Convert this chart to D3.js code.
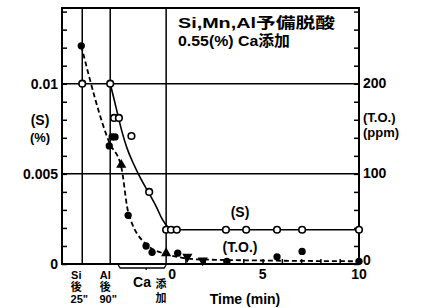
<!DOCTYPE html>
<html>
<head>
<meta charset="utf-8">
<script src="https://cdn.jsdelivr.net/npm/d3@7"></script>
<style>
  html, body { margin: 0; padding: 0; background: #fff; }
  svg { display: block; }
  text { font-family: "Liberation Sans", "DejaVu Sans", "Noto Sans CJK JP", sans-serif; font-weight: bold; fill: #000; }
</style>
</head>
<body>
<svg id="chart" width="427" height="308"></svg>
<script>
// Event markers before Ca addition (virtual time axis, min)
var eventTimes = [-4.35, -2.9, 0];

// (S) open circles, %
var sTime = [-4.35, -2.9, -2.7, -2.45, -1.8, -0.88, 0, 0.25, 0.55, 3.1, 4.15, 5.75, 7.05, 10];
var sVal  = [0.0100, 0.0100, 0.0081, 0.0081, 0.0071, 0.0040, 0.0019, 0.0019, 0.0019, 0.0019, 0.0019, 0.0019, 0.0019, 0.0019];
// (S) fitted solid line
var sFitTime = [-2.9, -2.69, -2.49, -2.28, -2.02, -1.71, -1.35, -0.88, -0.52, -0.21, 0.05, 0.36, 10];
var sFitVal  = [0.0100, 0.0091, 0.0082, 0.0073, 0.0064, 0.0056, 0.0048, 0.0039, 0.0032, 0.0025, 0.0021, 0.0019, 0.0019];

// (T.O.) filled marks, ppm
var toTime  = [-4.4, -2.95, -2.8, -2.65, -2.33, -1.97, -1.04, -0.73, 0, 0.6, 1.1, 1.9, 3.15, 5.75, 7.05, 10];
var toVal   = [242, 131, 141, 141, 110, 54, 20, 13, 12, 12, 8, 4, 3, 8, 14, 3];
var toShape = ['c', 'c', 'c', 'c', 'up', 'c', 'c', 'c', 'up', 'c', 'down', 'down', 'c', 'c', 'c', 'c'];
// (T.O.) fitted dashed line
var toFitTime = [-4.4, -2.95, -2.33, -1.97, -1.04, 0, 1.8, 10];
var toFitVal  = [242, 135, 108, 58, 22, 11, 5, 3];

var leftTicks = [0, 0.005, 0.01];
var leftTickLabels = ['0', '0.005', '0.01'];
var rightTicks = [0, 100, 200];
var xTicks = [0, 5, 10];

var svg = d3.select('#chart');
var L = 62, R = 359, T = 8, B = 264;

var x = d3.scaleLinear().domain([-5.4, 10]).range([L, R]);
var yS = d3.scaleLinear().domain([0, 0.0142]).range([B, T]);
var yT = d3.scaleLinear().domain([0, 284]).range([B, T]);

// grid lines
svg.selectAll('.hgrid').data([0.005, 0.01]).join('line')
  .attr('x1', L).attr('x2', R)
  .attr('y1', function (d) { return yS(d); }).attr('y2', function (d) { return yS(d); })
  .attr('stroke', '#000').attr('stroke-width', 1.5);
svg.selectAll('.vgrid').data(eventTimes).join('line')
  .attr('x1', function (d) { return x(d); }).attr('x2', function (d) { return x(d); })
  .attr('y1', T).attr('y2', B)
  .attr('stroke', '#000').attr('stroke-width', 1.5);

// frame
svg.append('rect').attr('x', L).attr('y', T).attr('width', R - L).attr('height', B - T)
  .attr('fill', 'none').attr('stroke', '#000').attr('stroke-width', 2);

// minor ticks (inside)
svg.append('g').attr('transform', 'translate(' + L + ',0)')
  .call(d3.axisRight(yS).tickValues(d3.range(0, 0.0141, 0.001)).tickSize(5).tickFormat(''))
  .call(function (g) { g.select('.domain').remove(); g.selectAll('line').attr('stroke-width', 1.5); });
svg.append('g').attr('transform', 'translate(' + R + ',0)')
  .call(d3.axisLeft(yT).tickValues(d3.range(0, 281, 20)).tickSize(5).tickFormat(''))
  .call(function (g) { g.select('.domain').remove(); g.selectAll('line').attr('stroke-width', 1.5); });
svg.append('g').attr('transform', 'translate(0,' + B + ')')
  .call(d3.axisTop(x).tickValues(d3.range(1, 10)).tickSize(5).tickFormat(''))
  .call(function (g) { g.select('.domain').remove(); g.selectAll('line').attr('stroke-width', 1.5); });

// tick labels
svg.selectAll('.ltl').data(leftTicks).join('text')
  .attr('x', 58).attr('y', function (d) { return yS(d) + 5; })
  .attr('text-anchor', 'end').attr('font-size', 14)
  .text(function (d, i) { return leftTickLabels[i]; });
svg.selectAll('.rtl').data(rightTicks).join('text')
  .attr('x', 363).attr('y', function (d) { return yT(d) + (d === 0 ? 1 : 4); })
  .attr('font-size', 14)
  .text(function (d) { return d; });
svg.selectAll('.xtl').data(xTicks).join('text')
  .attr('x', function (d) { return x(d) + (d === 0 ? 6 : 0); }).attr('y', 279)
  .attr('text-anchor', 'middle').attr('font-size', 14)
  .text(function (d) { return d; });

// axis titles
svg.append('text').attr('x', 40).attr('y', 125).attr('text-anchor', 'middle').attr('font-size', 14).text('(S)');
svg.append('text').attr('x', 40).attr('y', 142).attr('text-anchor', 'middle').attr('font-size', 13).text('(%)');
svg.append('text').attr('x', 363).attr('y', 122).attr('font-size', 13).text('(T.O.)');
svg.append('text').attr('x', 363).attr('y', 137).attr('font-size', 13).text('(ppm)');
svg.append('text').attr('x', 245).attr('y', 304).attr('text-anchor', 'middle').attr('font-size', 14).text('Time (min)');

// event labels under axis
var evLab = [
  { x: x(eventTimes[0]) - 6, lines: ['Si', '後', '25"'] },
  { x: x(eventTimes[1]) - 5, lines: ['Al', '後', '90"'] }
];
evLab.forEach(function (e) {
  e.lines.forEach(function (s, i) {
    svg.append('text').attr('x', e.x + (i === 2 ? 3 : 0)).attr('y', 279 + i * 12)
      .attr('text-anchor', 'middle').attr('font-size', 11).text(s);
  });
});
svg.append('text').attr('x', 142).attr('y', 287).attr('text-anchor', 'middle').attr('font-size', 14).text('Ca');
svg.append('text').attr('x', 161).attr('y', 288).attr('text-anchor', 'middle').attr('font-size', 11).text('添');
svg.append('text').attr('x', 161).attr('y', 302).attr('text-anchor', 'middle').attr('font-size', 11).text('加');
// bracket from Al to Ca addition
svg.append('path')
  .attr('d', 'M' + (x(eventTimes[1]) + 8) + ',265 L' + (x(eventTimes[1]) + 10) + ',268 L' + (x(0) - 2) + ',268 L' + x(0) + ',265 M' + ((x(eventTimes[1]) + x(0)) / 2 + 8) + ',268 l0,2')
  .attr('fill', 'none').attr('stroke', '#000').attr('stroke-width', 1.3);

// annotation
svg.append('text').attr('x', 178).attr('y', 28).attr('font-size', 15)
  .attr('textLength', 157).attr('lengthAdjust', 'spacingAndGlyphs').text('Si,Mn,Al予備脱酸');
svg.append('text').attr('x', 178).attr('y', 46).attr('font-size', 15)
  .attr('textLength', 112).attr('lengthAdjust', 'spacingAndGlyphs').text('0.55(%) Ca添加');

// fitted lines
var sLine = d3.line().x(function (d) { return x(d[0]); }).y(function (d) { return yS(d[1]); }).curve(d3.curveMonotoneX);
var tLine = d3.line().x(function (d) { return x(d[0]); }).y(function (d) { return yT(d[1]); }).curve(d3.curveMonotoneX);
svg.append('path').datum(d3.zip(sFitTime, sFitVal)).attr('d', sLine)
  .attr('fill', 'none').attr('stroke', '#000').attr('stroke-width', 1.6);
svg.append('path').datum(d3.zip(toFitTime, toFitVal)).attr('d', tLine)
  .attr('fill', 'none').attr('stroke', '#000').attr('stroke-width', 1.8).attr('stroke-dasharray', '5,3');

// series labels
svg.append('text').attr('x', 240).attr('y', 217).attr('text-anchor', 'middle').attr('font-size', 14).text('(S)');
svg.append('text').attr('x', 240).attr('y', 252).attr('text-anchor', 'middle').attr('font-size', 14).text('(T.O.)');

// (S) points
svg.selectAll('.sp').data(d3.zip(sTime, sVal)).join('circle')
  .attr('cx', function (d) { return x(d[0]); }).attr('cy', function (d) { return yS(d[1]); })
  .attr('r', 3.3).attr('fill', '#fff').attr('stroke', '#000').attr('stroke-width', 1.6);

// (T.O.) points
var shapeMap = { c: d3.symbolCircle, up: d3.symbolTriangle, down: d3.symbolTriangle };
svg.selectAll('.tp').data(d3.zip(toTime, toVal, toShape)).join('path')
  .attr('transform', function (d) {
    return 'translate(' + x(d[0]) + ',' + yT(d[1]) + ')' + (d[2] === 'down' ? ' rotate(180)' : '');
  })
  .attr('d', function (d) { return d3.symbol().type(shapeMap[d[2]]).size(d[2] === 'c' ? 42 : 45)(); })
  .attr('fill', '#000');
</script>
</body>
</html>
